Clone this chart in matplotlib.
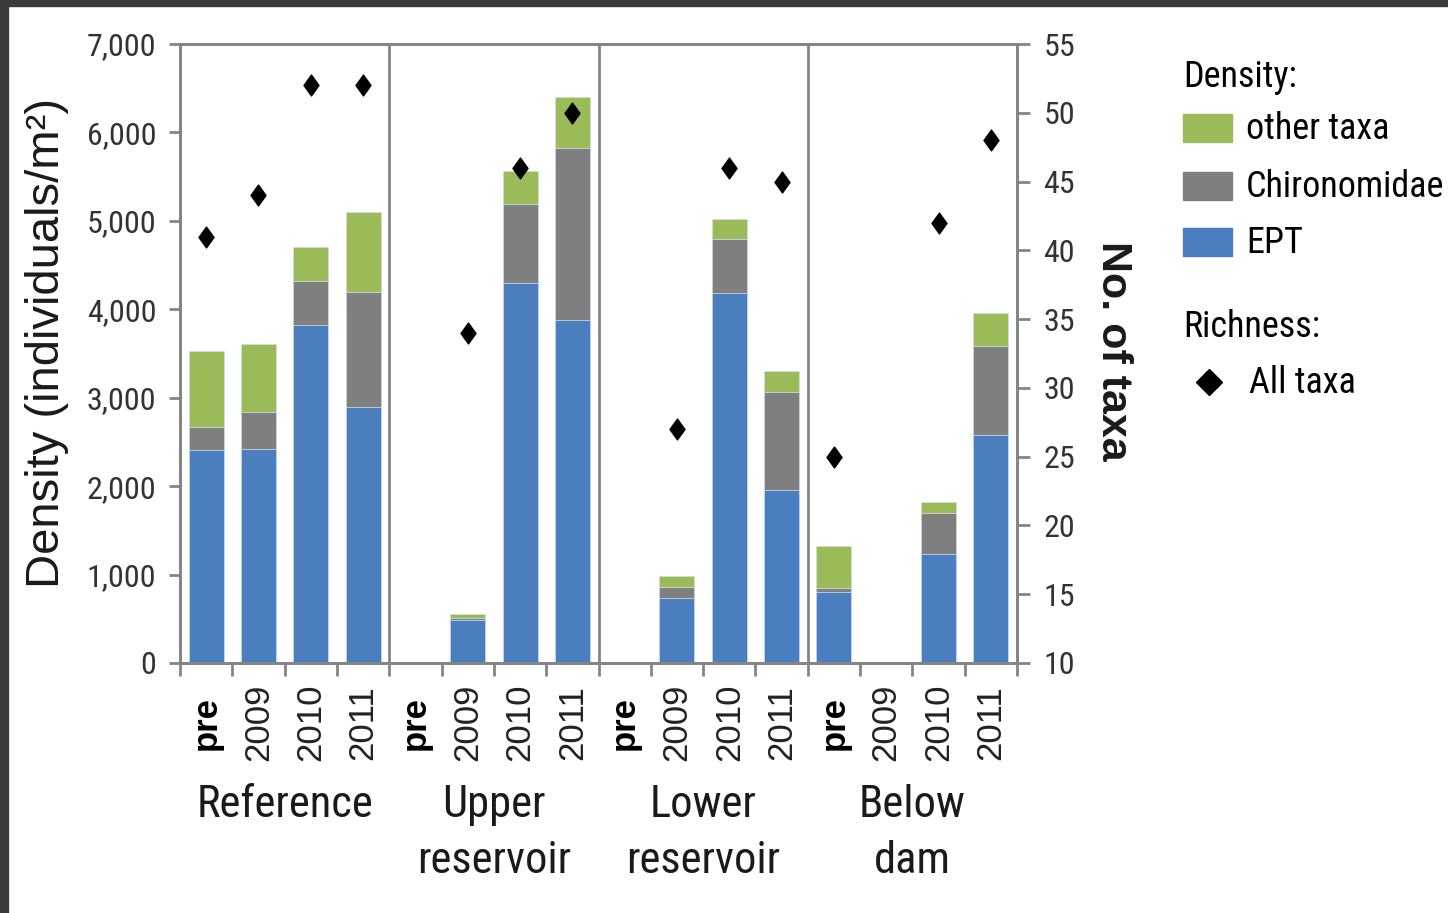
import matplotlib
matplotlib.use("Agg")
import matplotlib.pyplot as plt
from matplotlib.patches import Rectangle
from matplotlib.path import Path
from matplotlib.ticker import FuncFormatter, FixedLocator
from matplotlib.lines import Line2D
import numpy as np

NARROW = ["Roboto Condensed", "DejaVu Sans"]
REGULAR = ["Liberation Sans", "DejaVu Sans"]

sites = ["Reference", "Upper\nreservoir", "Lower\nreservoir", "Below\ndam"]
periods = ["pre", "2009", "2010", "2011"]

# density (individuals/m2), site-major order: 4 sites x 4 periods
ept = [2410, 2415, 3820, 2900,
       0, 485, 4300, 3880,
       0, 740, 4180, 1960,
       800, 0, 1230, 2580]
chiro = [255, 420, 505, 1290,
         0, 20, 890, 1945,
         0, 115, 610, 1110,
         45, 0, 465, 1010]
other = [865, 770, 380, 905,
         0, 50, 375, 580,
         0, 130, 230, 230,
         480, 0, 130, 365]
# no. of taxa (all taxa); nan = not sampled
richness = [41, 44, 52, 52,
            np.nan, 34, 46, 50,
            np.nan, 27, 46, 45,
            25, np.nan, 42, 48]

c_ept = "#4a7ebf"
c_chiro = "#7f7f7f"
c_other = "#9bbb59"
c_axis = "#858585"

# tall diamond used for the richness points
tall_diamond = Path([(0, 1), (0.72, 0), (0, -1), (-0.72, 0), (0, 1)],
                    [Path.MOVETO, Path.LINETO, Path.LINETO, Path.LINETO, Path.CLOSEPOLY])

fig = plt.figure(figsize=(14.48, 9.13), dpi=100)
ax = fig.add_axes([180 / 1448, 1 - 663 / 913, 837 / 1448, 619 / 913])

x = np.arange(len(ept))
ept = np.array(ept)
chiro = np.array(chiro)
other = np.array(other)
w = 0.67
ax.bar(x, ept, w, color=c_ept, edgecolor="#cfe0f5", linewidth=0.4, zorder=2)
ax.bar(x, chiro, w, bottom=ept, color=c_chiro, edgecolor="#cfe0f5", linewidth=0.4, zorder=2)
ax.bar(x, other, w, bottom=ept + chiro, color=c_other, edgecolor="#cfe0f5", linewidth=0.4, zorder=2)

ax.set_xlim(-0.5, len(ept) - 0.5)
ax.set_ylim(0, 7000)
ax.set_yticks(range(0, 7001, 1000))
ax.yaxis.set_major_formatter(FuncFormatter(lambda v, p: f"{int(v):,}"))

# group separators
for b in [3.5, 7.5, 11.5]:
    ax.axvline(b, color=c_axis, lw=2.0, zorder=1)

# category ticks between bars, labels under the bars
ax.xaxis.set_major_locator(FixedLocator(np.arange(-0.5, len(ept), 1.0)))
ax.xaxis.set_major_formatter(FuncFormatter(lambda v, p: ""))
ax.xaxis.set_minor_locator(FixedLocator(x))
ax.set_xticklabels(periods * 4, minor=True)
ax.tick_params(axis="x", which="major", direction="out", length=9, width=2, color=c_axis)
ax.tick_params(axis="x", which="minor", length=0, pad=43)
for lbl in ax.get_xticklabels(minor=True):
    lbl.set_rotation(90)
    lbl.set_va("center")
    lbl.set_ha("center")
    lbl.set_fontsize(25)
    lbl.set_family(REGULAR)
    lbl.set_color("#222222")
    if lbl.get_text() == "pre":
        lbl.set_fontweight("bold")
        lbl.set_color("black")

ax.tick_params(axis="y", direction="out", length=8, width=2, color=c_axis, pad=9,
               labelsize=23, labelcolor="#333333")
for lbl in ax.get_yticklabels():
    lbl.set_family(NARROW)

for s in ax.spines.values():
    s.set_color(c_axis)
    s.set_linewidth(2.0)

# richness on the secondary axis
ax2 = ax.twinx()
ax2.plot(x, richness, linestyle="none", marker=tall_diamond, markersize=15,
         color="black", zorder=3)
ax2.set_ylim(10, 55)
ax2.set_yticks(range(10, 56, 5))
ax2.tick_params(axis="y", direction="out", length=9, width=2, color=c_axis, pad=10,
                labelsize=23, labelcolor="#333333")
for lbl in ax2.get_yticklabels():
    lbl.set_family(NARROW)
for s in ax2.spines.values():
    s.set_color(c_axis)
    s.set_linewidth(2.0)

# site names under the period labels
for i, name in enumerate(sites):
    ax.text(i * 4 + 1.5, -0.196, name, transform=ax.get_xaxis_transform(),
            ha="center", va="top", fontsize=32, family=NARROW, linespacing=1.42,
            color="#1a1a1a")

fig.text(47 / 1448, 1 - 343 / 913, "Density (individuals/m\u00b2)", rotation=90,
         ha="center", va="center", fontsize=34, family=REGULAR, color="#1a1a1a")
fig.text(1113 / 1448, 1 - 351 / 913, "No. of taxa", rotation=270,
         ha="center", va="center", fontsize=31, family=REGULAR, fontweight="bold",
         color="#1a1a1a")

# legend block on the right
def fx(px):
    return px / 1448

def fy(py):
    return 1 - py / 913

fig.text(fx(1183), fy(77), "Density:", ha="left", va="center", fontsize=26, family=NARROW)
for yc, col, name in [(128, c_other, "other taxa"), (186, c_chiro, "Chironomidae"),
                      (242, c_ept, "EPT")]:
    fig.patches.append(Rectangle((fx(1183), fy(yc + 14)), fx(49), 28 / 913,
                                 transform=fig.transFigure, color=col))
    fig.text(fx(1246), fy(yc + 1), name, ha="left", va="center", fontsize=26, family=NARROW)
fig.text(fx(1183), fy(327), "Richness:", ha="left", va="center", fontsize=26, family=NARROW)
fig.lines.append(Line2D([fx(1209)], [fy(382)], transform=fig.transFigure, marker="D",
                        markersize=13, color="black", linestyle="none"))
fig.text(fx(1249), fy(383), "All taxa", ha="left", va="center", fontsize=26, family=NARROW)

# dark edge along top and left
fig.patches.append(Rectangle((0, 1 - 6 / 913), 1, 6 / 913, transform=fig.transFigure,
                             color="#3b3b3b", zorder=10))
fig.patches.append(Rectangle((0, 0), 8 / 1448, 1, transform=fig.transFigure,
                             color="#3b3b3b", zorder=10))

fig.savefig("out.png", dpi=100)
